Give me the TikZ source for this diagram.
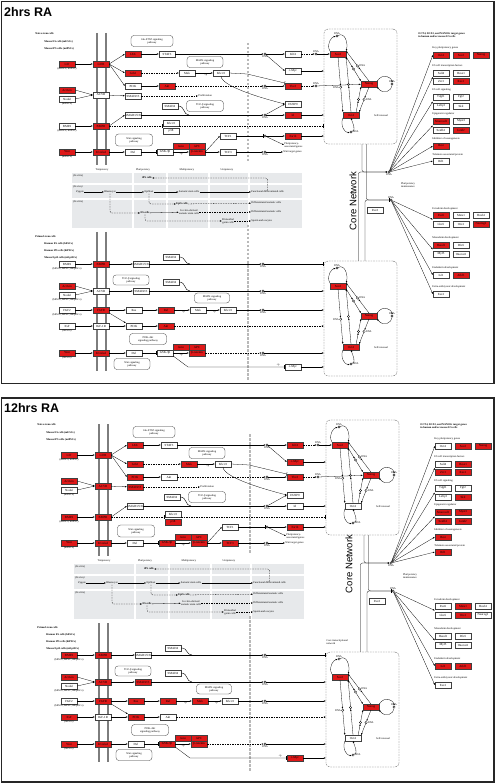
\documentclass[tikz,border=0pt]{standalone}
\usepackage{fontspec}
\setmainfont{Liberation Serif}
\newfontfamily\headfont{Liberation Sans}
\usetikzlibrary{arrows.meta,calc,positioning}
\definecolor{keggred}{RGB}{222,24,24}
\definecolor{membgray}{RGB}{125,125,125}
\definecolor{cellgray}{RGB}{231,233,235}
\newcommand\genefnt{\fontsize{3.1}{3.4}\selectfont}
\newcommand\smallfnt{\fontsize{2.7}{3.1}\selectfont}
\makeatletter
\tikzset{
  gene/.code={\pgfkeysalso{genebox}%
    \edef\tmp{\noexpand\in@{,#1,}{,\redlist,}}\tmp
    \ifin@\pgfkeysalso{fill=keggred}\fi},
}
\makeatother
\tikzset{
  genebox/.style={draw=black!75, line width=0.3pt, fill=white, minimum width=16pt, minimum height=5.6pt, inner sep=0pt, font=\genefnt},
  pw/.style={draw=black!80, line width=0.3pt, rounded corners=3pt, align=center, font=\smallfnt, inner sep=0.5pt},
  corebox/.style={draw=black!70, line width=0.3pt, rounded corners=4pt, dash pattern=on 1.6pt off 1pt},
  dna/.style={circle, draw, line width=0.3pt, fill=white, inner sep=0pt, minimum size=2.4pt},
  sub/.style={font=\smallfnt, inner sep=0.2pt},
  hdr/.style={sub, anchor=west, font=\smallfnt\bfseries},
  cat/.style={sub, anchor=west},
  arr/.style={-{Latex[length=1.9pt,width=1.5pt]}, line width=0.28pt},
  darr/.style={arr, dash pattern=on 1.5pt off 1pt},
  inh/.style={-{Bar[width=3.6pt,line width=0.4pt]}, line width=0.28pt},
  dinh/.style={inh, dash pattern=on 1.5pt off 1pt},
  membr/.style={membgray, line width=1.8pt},
  nucl/.style={gray!55, line width=2.6pt, dash pattern=on 2.5pt off 1.5pt},
  cell/.style={fill=cellgray, draw=none},
  frame/.style={draw=black!85, line width=1.1pt},
  ttl/.style={anchor=west, inner sep=0pt, font={\headfont\bfseries\fontsize{12.5}{14}\selectfont}},
  cnet/.style={rotate=90, inner sep=0pt, font={\headfont\fontsize{9.5}{11}\selectfont}},
}
\newcommand\gn[3]{\node[gene=#1] (#1) at (#2) {#3};}
\newcommand\corenet[1]{%
  \node[corebox, minimum width=73pt, minimum height=115pt] (#1box) at (360.5,86.5) {};
  \node[gene=cSOX] (#1sox) at (338,54) {Sox2};
  \node[gene=cNAN] (#1nan) at (369,84) {Nanog};
  \node[gene=cOCT] (#1oct) at (351,115) {Oct4};
  \node[sub] (#1self) at (381,116) {Self-renewal};
  \node[dna, label={[sub]above:DNA}] (#1sl) at (337,36) {};
  \node[dna, label={[sub]above:DNA}] (#1nl) at (392,84) {};
  \node[dna, label={[sub]right:DNA}] (#1ol) at (351,132) {};
  \draw[arr] (#1sox.north west) .. controls +(-4,-8) and +(-5,1) .. (#1sl);
  \draw[arr] (#1sl) .. controls +(8,-4) and +(2,-8) .. (#1sox.north east);
  \draw[arr] (#1nan.north east) .. controls +(6,-9) and +(0,-6) .. (#1nl);
  \draw[arr] (#1nl) .. controls +(0,7) and +(6,8) .. (#1nan.south east);
  \draw[arr] (#1oct.south west) .. controls +(-3,8) and +(-6,1) .. (#1ol);
  \draw[arr] (#1ol) .. controls +(5,-2) and +(2,6) .. (#1oct.south);
  \node[dna] (#1c1) at ($(#1sox.south east)!.5!(#1nan.north west)$) {};
  \node[dna, label={[sub]right:DNA}] (#1c2) at ($(#1nan.north)!.5!(#1sox.north east)$) {};
  \node[dna, label={[sub]left:DNA}] (#1c3) at ($(#1sox.south)!.55!(#1oct.north west)$) {};
  \node[dna] (#1c4) at ($(#1oct.north)!.5!(#1sox.south east)$) {};
  \node[dna, label={[sub]right:DNA}] (#1c5) at ($(#1nan.south)!.5!(#1oct.north east)$) {};
  \node[dna] (#1c6) at ($([xshift=-3pt]#1oct.north east)!.5!(#1nan.south west)$) {};
  \draw[arr] (#1sox.south east) -- (#1c1);
  \draw[arr] (#1c1) -- (#1nan.north west);
  \draw[arr] (#1nan.north) -- (#1c2);
  \draw[arr] (#1c2) -- (#1sox.north east);
  \draw[arr] (#1sox.south) -- (#1c3);
  \draw[arr] (#1c3) -- (#1oct.north west);
  \draw[arr] (#1oct.north) -- (#1c4);
  \draw[arr] (#1c4) -- (#1sox.south east);
  \draw[arr] (#1nan.south) -- (#1c5);
  \draw[arr] (#1c5) -- (#1oct.north east);
  \draw[arr] ([xshift=-3pt]#1oct.north east) -- (#1c6);
  \draw[arr] (#1c6) -- (#1nan.south west);
}
\newcommand\pathwaymap{%
  \node[hdr] (naive) at (35,34) {Naive stem cells};
  \node[hdr] (mesc) at (44,42) {Mouse ES cells (mESCs)};
  \node[hdr] (mipsc) at (44,49) {Mouse iPS cells (miPSCs)};
  \draw[membr] (97,33) -- (97,165);
  \draw[membr] (106,33) -- (106,165);
  \gn{nLIF}{67,64}{LIF}
  \node[sub, below=0.3pt of nLIF] (nLIFs) {(mESCs, miPSC)};
  \gn{nLIFR}{101,64}{LIFR}
  \gn{nJAK}{133,54}{JAK}
  \gn{nSTAT3}{167,54}{STAT3}
  \gn{nGRB2}{133,73}{Grb2}
  \gn{nMEK}{187,73}{Mek}
  \gn{nERK}{221,73}{Erk1/2}
  \gn{nPI3K}{133,86}{PI3K}
  \gn{nAKT}{167,86}{Akt}
  \gn{nACT}{67,90}{Activin}
  \gn{nNODAL}{67,99}{Nodal}
  \node[sub, below=0.3pt of nNODAL] (nNODALs) {(mESCs)};
  \gn{nACVR}{101,95}{ACVR}
  \gn{nSMAD23}{133,96}{SMAD2/3}
  \gn{nSMAD4}{170,106}{SMAD4}
  \gn{nSMAD158}{133,115}{SMAD1/5/8}
  \gn{nBMP4}{67,126}{BMP4}
  \node[sub, below=0.3pt of nBMP4] (nBMP4s) {(mESCs, miPSC)};
  \gn{nBMPR}{101,126}{BMPR}
  \gn{nERKb}{171,123}{Erk1/2}
  \gn{nP38}{171,131}{p38}
  \gn{nWNT}{67,152}{Wnt}
  \node[sub, below=0.3pt of nWNT] (nWNTs) {(mESCs)};
  \gn{nFZD}{101,152}{Frizzled}
  \gn{nDVL}{133,152}{Dvl}
  \gn{nGSK}{165,152}{GSK-3β}
  \gn{nAXIN}{181,146.4}{Axin}
  \gn{nAPC}{197,146.4}{APC}
  \gn{nBCAT}{197,152}{β-catenin}
  \gn{nTCF1}{228,136}{TCF1}
  \gn{nTCF3}{228,152}{TCF3}
  \node[pw, minimum width=42pt, minimum height=11pt] (jakpw) at (152,41) {Jak-STAT signaling\\pathway};
  \node[pw, minimum width=36pt, minimum height=11pt] (mapkpw) at (205,62) {MAPK signaling\\pathway};
  \node[pw, minimum width=37pt, minimum height=11pt] (tgfpw) at (205,106) {TGF-β signaling\\pathway};
  \node[pw, minimum width=37pt, minimum height=12pt] (wntpw) at (134,140) {Wnt signaling\\pathway};
  \node[sub, anchor=west] (prolif) at (198,96) {Proliferation};
  \coordinate (jn4) at (189,115);
  \draw[arr] (nLIF) -- (nLIFR);
  \draw[arr] (nLIFR.east) -- (nJAK.west);
  \draw[arr] (nLIFR.east) -- (nGRB2.west);
  \draw[arr] (nLIFR.east) -- (nPI3K.west);
  \draw[arr] (nJAK) -- (nSTAT3);
  \draw[darr] (nGRB2) -- (nMEK);
  \draw[arr] (nMEK) -- node[sub, below=0.3pt, pos=.6] (pp1) {+p} (nERK);
  \draw[arr] (nPI3K) -- (nAKT);
  \draw[arr] (nACT.east) -- (nACVR.west);
  \draw[arr] (nNODAL.east) -- (nACVR.west);
  \draw[arr] (nACVR) -- (nSMAD23);
  \draw[darr] (nSMAD23) -- (prolif);
  \draw[arr] (nBMP4) -- (nBMPR);
  \draw[arr] (nBMPR.east) -- (nSMAD158.west);
  \draw[dinh] (nBMPR.east) -- (nBMPR.east -| nERKb.west);
  \draw (nSMAD4.east) .. controls +(7,0) and +(-6,0) .. (jn4);
  \draw[arr] (nWNT) -- (nFZD);
  \draw[arr] (nFZD) -- (nDVL);
  \draw[inh] (nDVL) -- (nGSK);
  \draw[arr] (nGSK) -- node[sub, below=0.6pt] (pp2) {+p} (nBCAT);
  \draw[arr] (nBCAT.east) -- (nTCF1.west);
  \draw[arr] (nBCAT) -- (nTCF3);
  % nucleus
  \node[dna, label={[sub]below:DNA}] (d1) at (265,54) {};
  \gn{nKLF4}{293,54}{Klf4}
  \node[dna, label={[sub]above:DNA}] (d2) at (316,54) {};
  \gn{nMYC}{293,71}{c-Myc}
  \node[dna, label={[sub]below:DNA}] (d3) at (265,86) {};
  \gn{nTBX3}{293,86}{Tbx3}
  \node[dna, label={[sub]above:DNA}] (d4) at (316,86) {};
  \gn{nDUSP9}{293,104}{DUSP9}
  \node[dna, label={[sub]below:DNA}] (d5) at (265,115) {};
  \gn{nID}{293,115}{Id}
  \node[dna] (d6) at (265,136) {};
  \gn{nESRRB}{293,136}{Esrrb}
  \node[sub, anchor=west, align=left] (pag) at (284,145) {Pluripotency-\\associated genes};
  \node[dna, label={[sub]below:DNA}] (d7) at (265,152) {};
  \node[sub, anchor=west] (wtg) at (283,152) {Wnt target genes};
  \draw[nucl] (248,43) -- (248,163);
  \corenet{u}
  \begin{scope}[shift={(0,232)}]
    \corenet{l}
  \end{scope}
  \draw[arr] (nSTAT3) -- (d1);
  \draw[arr] (d1) -- (nKLF4);
  \draw[arr] (d1) -- (nMYC.west);
  \draw[darr] (nKLF4) -- (d2);
  \draw[arr] (d2) -- (usox);
  \draw[arr] (nMYC) -- (nMYC -| ubox.west);
  \draw[inh] (nERK.east) -- ++(18,1) -- (nTBX3.north west);
  \draw[arr] (nERK.south) .. controls +(0,12) and +(-8,-2) .. (nDUSP9.west);
  \draw[darr] (nAKT) -- (d3);
  \draw[arr] (d3) -- (nTBX3);
  \draw[darr] (nTBX3) -- (d4);
  \draw[arr] (d4) -- (unan);
  \draw[arr] (nSMAD158) -- (d5);
  \draw[arr] (d5) -- (nID);
  \draw[arr] (d5) -- (nDUSP9.west);
  \draw[arr] (nID) -- (nID -| ubox.west);
  \draw[dinh] (nBMPR.east -| nERKb.east) -- (nBMPR.east -| ubox.west);
  \draw[inh] (nTCF1) -- (d6);
  \draw[arr] (d6) -- (nESRRB);
  \draw[arr] (d6) -- (pag.west);
  \draw[arr] (nESRRB) -- (nESRRB -| ubox.west);
  \draw[arr] (nTCF3) -- (d7);
  \draw[arr] (d7) -- (wtg);
  % stages of potency
  \foreach \xa/\xb in {72/132,134/166,168/208,210/248,250/302}
    \foreach \ya/\yb in {173/183,185/198,200/228}
      \fill[cell] (\xa,\ya) rectangle (\xb,\yb);
  \node[sub] (tot) at (102,170) {Totipotency};
  \node[sub] (plu) at (143,170) {Pluripotency};
  \node[sub] (mul) at (187,170) {Multipotency};
  \node[sub] (uni) at (227,170) {Unipotency};
  \node[sub, anchor=west, font=\smallfnt\itshape] (vitro1) at (73,176) {(In vitro)};
  \node[sub, font=\smallfnt\bfseries] (ips) at (147,178) {iPS cells};
  \node[sub, anchor=west, font=\smallfnt\itshape] (vivo) at (73,187) {(In vivo)};
  \node[sub] (zyg) at (80,192) {Zygote};
  \node[sub] (blast) at (110,192) {Blastocyst};
  \node[sub] (epib) at (149,192) {Epiblast};
  \node[sub] (ssc) at (189,192) {Somatic stem cells};
  \node[sub, anchor=west] (fdc) at (251,192) {Functional differentiated cells};
  \node[sub, anchor=west, font=\smallfnt\itshape] (vitro2) at (73,202) {(In vitro)};
  \node[sub, font=\smallfnt\bfseries] (epis) at (182,204) {EpiS cells};
  \node[sub, font=\smallfnt\bfseries] (es) at (145,213) {ES cells};
  \node[sub, align=center] (ivd) at (189,212) {In vitro-derived\\somatic stem cells};
  \node[sub, align=center] (pgc) at (228,221) {Primordial\\germ cells};
  \node[sub, anchor=west] (dsc1) at (251,203) {Differentiated somatic cells};
  \node[sub, anchor=west] (dsc2) at (251,212) {Differentiated somatic cells};
  \node[sub, anchor=west] (spo) at (251,221) {Sperm and oocytes};
  \draw[arr] (zyg) -- (blast);
  \draw[arr] (blast) -- (epib);
  \draw[arr] (epib) -- (ssc);
  \draw[arr] (ssc) -- (fdc);
  \draw[darr, rounded corners=2pt] (fdc.north) |- (ips.east);
  \draw[darr, rounded corners=2pt] (blast.south) |- (es.west);
  \draw[darr, rounded corners=2pt] (epib.south) |- (epis.west);
  \draw[arr] (es) -- (ivd);
  \draw[darr, rounded corners=2pt] (es.south) |- (pgc.west);
  \draw[darr] (epis) -- (dsc1);
  \draw[darr] (ivd) -- (dsc2);
  \draw[darr] (pgc) -- (spo);
  % primed stem cells
  \node[hdr] (primed) at (35,237) {Primed stem cells};
  \node[hdr] (hesc) at (44,244) {Human ES cells (hESCs)};
  \node[hdr] (hipsc) at (44,251) {Human iPS cells (hiPSCs)};
  \node[hdr] (mepisc) at (44,258) {Mouse EpiS cells (mEpiSCs)};
  \draw[membr] (97,232) -- (97,371);
  \draw[membr] (106,232) -- (106,371);
  \gn{pBMP4}{67,264}{BMP4}
  \node[sub, below=0.3pt of pBMP4] (pBMP4s) {(hESCs, hiPSC, mEpiSCs)};
  \gn{pBMPR}{101,264}{BMPR}
  \gn{pSMAD158}{141,264}{SMAD1/5/8}
  \gn{pSMAD4a}{171,257}{SMAD4}
  \gn{pACT}{67,286}{Activin}
  \gn{pNODAL}{67,295}{Nodal}
  \node[sub, below=0.3pt of pNODAL] (pNODALs) {(hESCs, hiPSC, mEpiSCs)};
  \gn{pACVR}{101,291}{ACVR}
  \gn{pSMAD23}{141,291}{SMAD2/3}
  \gn{pSMAD4b}{171,282}{SMAD4}
  \node[pw, minimum width=36pt, minimum height=10pt] (tgfpw2) at (131,280) {TGF-β signaling\\pathway};
  \gn{pFGF2}{67,310}{FGF2}
  \node[sub, below=0.3pt of pFGF2] (pFGF2s) {(hESCs, hiPSC, mEpiSCs)};
  \gn{pFGFR}{101,310}{FGFR}
  \gn{pRAS}{134,310}{Ras}
  \gn{pRAF}{166,310}{Raf}
  \gn{pMEK}{198,310}{Mek}
  \gn{pERK}{228,310}{Erk1/2}
  \node[pw, minimum width=35pt, minimum height=10pt] (mapkpw2) at (212,298) {MAPK signaling\\pathway};
  \gn{pIGF}{67,326}{IGF}
  \node[sub, below=0.3pt of pIGF] (pIGFs) {(hESCs)};
  \gn{pIGFR}{101,326}{IGF-1R}
  \gn{pPI3K}{134,326}{PI3K}
  \gn{pAKT}{166,326}{Akt}
  \node[pw, minimum width=37pt, minimum height=11pt] (pi3kpw) at (148,339) {PI3K-Akt\\signaling pathway};
  \gn{pWNT}{67,353}{Wnt}
  \node[sub, below=0.3pt of pWNT] (pWNTs) {(hESCs)};
  \gn{pFZD}{101,353}{Frizzled}
  \gn{pDVL}{134,353}{Dvl}
  \gn{pGSK}{165,353}{GSK-3β}
  \gn{pAXIN}{181,347.4}{Axin}
  \gn{pAPC}{197,347.4}{APC}
  \gn{pBCAT}{197,353}{β-catenin}
  \node[pw, minimum width=36pt, minimum height=11pt] (wntpw2) at (132,364) {Wnt signaling\\pathway};
  \gn{pMYC}{293,367}{c-Myc}
  \node[dna, label={[sub]below:DNA}] (pd1) at (263,264) {};
  \node[dna, label={[sub]below:DNA}] (pd2) at (263,291) {};
  \node[dna, label={[sub]below:DNA}] (pd3) at (263,310) {};
  \node[dna, label={[sub]below:DNA}] (pd4) at (263,353) {};
  \coordinate (jp1) at (190,264);
  \coordinate (jp2) at (190,291);
  \coordinate (jp3) at (188,367);
  \draw[nucl] (248,225) -- (248,380);
  \draw[arr] (pBMP4) -- (pBMPR);
  \draw[arr] (pBMPR) -- (pSMAD158);
  \draw[arr] (pSMAD158) -- (pd1);
  \draw[inh] (pd1) -- (pd1 -| lbox.west);
  \draw (pSMAD4a.east) .. controls +(7,0) and +(-6,0) .. (jp1);
  \draw[arr] (pACT.east) -- (pACVR.west);
  \draw[arr] (pNODAL.east) -- (pACVR.west);
  \draw[arr] (pACVR) -- (pSMAD23);
  \draw[arr] (pSMAD23) -- (pd2);
  \draw[arr] (pd2) -- (pd2 -| lbox.west);
  \draw (pSMAD4b.east) .. controls +(7,0) and +(-6,0) .. (jp2);
  \draw[arr] (pFGF2) -- (pFGFR);
  \draw[arr] (pFGFR) -- (pRAS);
  \draw[arr] (pRAS) -- (pRAF);
  \draw[arr] (pRAF) -- node[sub, below=0.3pt, pos=.6] (pp3) {+p} (pMEK);
  \draw[arr] (pMEK) -- node[sub, below=0.3pt, pos=.6] (pp4) {+p} (pERK);
  \draw[arr] (pERK) -- (pd3);
  \draw[arr] (pd3) -- (pd3 -| lbox.west);
  \draw[arr] (pFGFR.south east) -- (pPI3K.north west);
  \draw[arr] (pIGF) -- (pIGFR);
  \draw[arr] (pIGFR) -- (pPI3K);
  \draw[arr] (pPI3K) -- (pAKT);
  \draw[darr] (pAKT) -- (pAKT -| lbox.west);
  \draw[arr] (pWNT) -- (pFZD);
  \draw[arr] (pFZD) -- (pDVL);
  \draw[inh] (pDVL) -- (pGSK);
  \draw[arr] (pGSK) -- node[sub, below=0.6pt] (pp5) {+p} (pBCAT);
  \draw[darr] (pBCAT) -- (pd4);
  \draw[arr] (pd4) -- (pd4 -| lbox.west);
  \draw[inh] (pGSK.south east) -- (jp3) -- node[sub, above=0.3pt, pos=.93] (pp6) {+p} (pMYC.west);
  \draw[arr] (pMYC) -- (pMYC -| lbox.west);
  % target genes
  \node[dna, label={[sub]below:DNA}] (dna1) at (389,172) {};
  \node[dna, label={[sub]above:DNA}] (dna2) at (391,200) {};
  \node[sub, align=center] (plm) at (408,185) {Pluripotency\\maintenance};
  \draw[arr, rounded corners=2pt] ([xshift=1.5pt]ubox.south) |- (dna1);
  \draw[arr, rounded corners=2pt] ([xshift=-2pt]lbox.north) |- (dna1);
  \draw[inh, rounded corners=2pt] ([xshift=6pt]ubox.south) |- (dna2);
  \draw[inh, rounded corners=2pt] ([xshift=4.5pt]lbox.north) |- (dna2);
  \node[sub, anchor=west, align=left, font=\smallfnt\bfseries] (tgt) at (418,35) {OCT4, SOX2, and NANOG target genes\\in human and/or mouse ES cells};
  \node[cat] (cKEY) at (432,48) {Key pluripotency genes};
  \gn{kOCT}{441,55}{Oct4}
  \gn{kSOX}{461,55}{Sox2}
  \gn{kNAN}{481,55}{Nanog}
  \node[cat] (cTF) at (432,66) {ES cell transcription factors};
  \gn{kSALL4}{441,73}{Sall4}
  \gn{kHESX1}{461,73}{Hesx1}
  \gn{kZIC3}{441,81}{Zic3}
  \gn{kTF4}{461,81}{Rex1}
  \node[cat] (cSIG) at (432,90) {ES cell signaling};
  \gn{kTDGF1}{441,97}{Tdgf1}
  \gn{kFGF}{461,97}{Fgf2}
  \gn{kLEFTY}{441,106}{Lefty2}
  \gn{kSKIL}{461,106}{Skil}
  \node[cat] (cEPI) at (432,114) {Epigenetic regulator};
  \gn{kSMARCAD1}{441,121}{Smarcad1}
  \gn{kMYST}{461,121}{Myst3}
  \gn{kSETDB1}{441,130}{Setdb1}
  \gn{kJARID2}{461,130}{Jarid2}
  \node[cat] (cINH) at (432,139) {Inhibitor of neurogenesis};
  \gn{kREST}{441,146}{Rest}
  \node[cat] (cTEL) at (432,155) {Telomere-associated protein};
  \gn{kRIF1}{441,161}{Rif1}
  \gn{kPAX}{375,210}{Pax3}
  \node[cat] (cECT) at (432,209) {Ectoderm development};
  \gn{kPAX6}{441,215}{Pax6}
  \gn{kMEIS1}{461,215}{Meis1}
  \gn{kHOXB1}{481,215}{Hoxb1}
  \gn{kLHX5}{441,224}{Lhx5}
  \gn{kOTX1}{461,224}{Otx1}
  \gn{kNEUROG1}{481,224}{Neurog1}
  \node[cat] (cMES) at (432,238) {Mesoderm development};
  \gn{kHAND1}{441,245}{Hand1}
  \gn{kDLX5}{461,245}{Dlx5}
  \gn{kMYF5}{441,254}{Myf5}
  \gn{kONECUT1}{461,254}{Onecut1}
  \node[cat] (cEND) at (432,268) {Endoderm development};
  \gn{kISL1}{441,275}{Isl1}
  \gn{kATBF1}{461,275}{Atbf1}
  \node[cat] (cEXT) at (432,287) {Extra-embryonic development};
  \gn{kESX1}{441,294}{Esx1}
  \draw[arr] (dna1) -- (kOCT.west);
  \draw[arr] (dna1) -- ($(kSALL4.west)!.5!(kZIC3.west)$);
  \draw[arr] (dna1) -- ($(kTDGF1.west)!.5!(kLEFTY.west)$);
  \draw[arr] (dna1) -- ($(kSMARCAD1.west)!.5!(kSETDB1.west)$);
  \draw[arr] (dna1) -- (kREST.west);
  \draw[arr] (dna1) -- (kRIF1.west);
  \draw[arr] (dna2) -- ($(kPAX6.west)!.5!(kLHX5.west)$);
  \draw[arr] (dna2) -- ($(kHAND1.west)!.5!(kMYF5.west)$);
  \draw[arr] (dna2) -- (kISL1.west);
  \draw[arr] (dna2) -- (kESX1.west);
}
\begin{document}
\begin{tikzpicture}[x=1pt, y=-1pt]
\useasboundingbox (0,0) rectangle (497,783);
\draw[frame] (1.5,1.5) rectangle (494,383.5);
\draw[frame] (1.5,398) rectangle (494,782);
\node[ttl] (ttlA) at (4,12) {2hrs RA};
\node[ttl] (ttlB) at (4,408) {12hrs RA};
\def\redlist{nLIF,nLIFR,nJAK,nGRB2,nAKT,nACT,nBMPR,nWNT,nFZD,nAXIN,nAPC,nBCAT,nTBX3,nID,nESRRB,cSOX,cNAN,cOCT,kOCT,kSOX,kNAN,kTF4,kSMARCAD1,kJARID2,kREST,kPAX6,kNEUROG1,kHAND1,kATBF1,pBMPR,pACT,pFGFR,pRAF,pAKT,pWNT,pFZD,pAXIN,pAPC,pBCAT}
\begin{scope}[name prefix=a-]
  \pathwaymap
  \node[cnet] (cnA) at (353,201) {Core Network};
\end{scope}
\def\redlist{nLIF,nLIFR,nJAK,nGRB2,nMEK,nPI3K,nACT,nACVR,nSMAD23,nBMP4,nBMPR,nP38,nWNT,nFZD,nGSK,nAXIN,nAPC,nBCAT,nTCF3,nKLF4,nMYC,nTBX3,nESRRB,cSOX,cNAN,kSOX,kNAN,kHESX1,kZIC3,kTF4,kSKIL,kSMARCAD1,kMYST,kSETDB1,kJARID2,kREST,kRIF1,kMEIS1,kOTX1,kISL1,kATBF1,pBMP4,pBMPR,pACT,pACVR,pSMAD23,pFGFR,pRAS,pRAF,pMEK,pIGF,pPI3K,pWNT,pFZD,pGSK,pAXIN,pAPC,pBCAT,pMYC}
\begin{scope}[shift={(2,391)}, name prefix=b-]
  \pathwaymap
  \node[cnet] (cnB) at (347,173) {Core Network};
  \node[sub, anchor=west, align=left] (ctn) at (324,251) {Core transcriptional\\network};
\end{scope}
\end{tikzpicture}
\end{document}
